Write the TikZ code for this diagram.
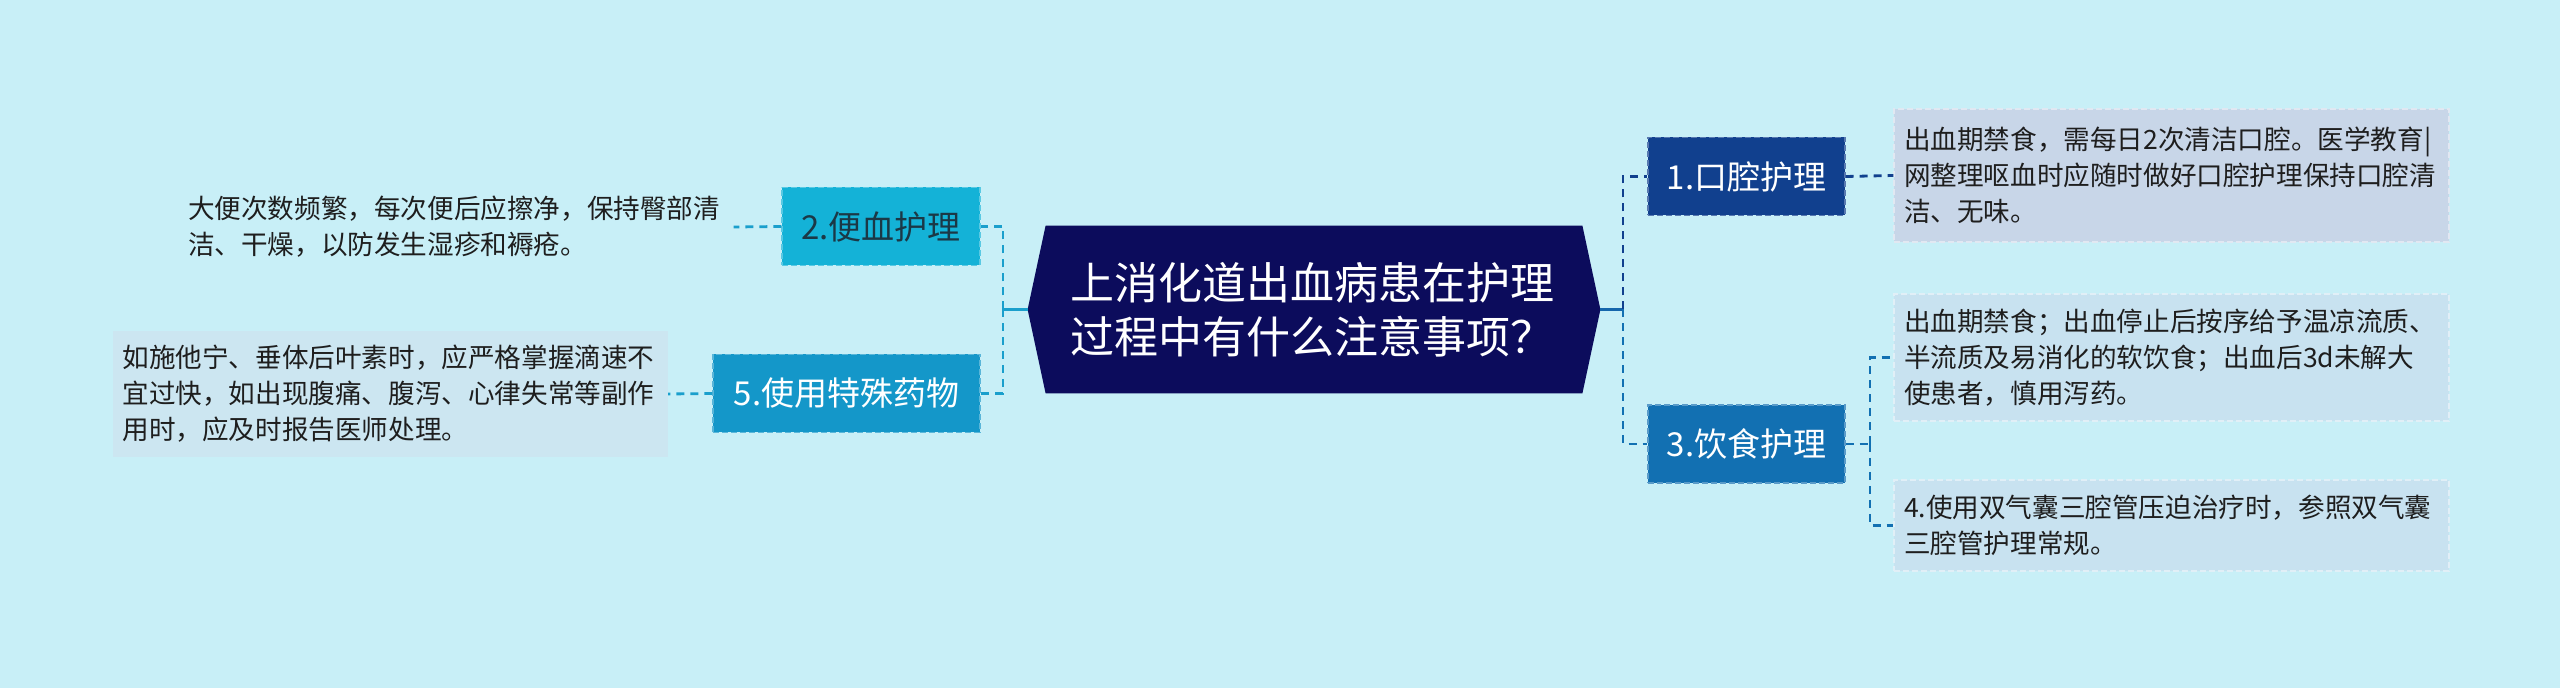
\documentclass[tikz,border=0pt]{standalone}
\usepackage{fontspec}
\setmainfont{Noto Sans CJK SC}
\usetikzlibrary{backgrounds,calc}
\definecolor{bg}{HTML}{C8EFF7}
\definecolor{navy}{HTML}{0C0C5C}
\definecolor{bOne}{HTML}{11408E}
\definecolor{bThree}{HTML}{1270B2}
\definecolor{bTwo}{HTML}{14B2D7}
\definecolor{bFive}{HTML}{1497C9}
\definecolor{lOne}{HTML}{C8D6E8}
\definecolor{lTwo}{HTML}{C8E2F0}
\definecolor{lFive}{HTML}{CCE6F1}
\definecolor{cLeft}{HTML}{1A9FCC}
\definecolor{cRight}{HTML}{1566AC}
\definecolor{txt}{HTML}{1E1E1E}
\definecolor{txtTwo}{HTML}{1B3846}
\begin{document}
\begin{tikzpicture}[x=0.5pt,y=-0.5pt,
  centerbox/.style={rectangle, inner xsep=12pt, inner ysep=0pt, minimum width=268pt, minimum height=83.5pt,
    text width=244pt, align=left, text=white, font=\fontsize{22}{27}\selectfont},
  branch/.style={rectangle, fill=#1, draw=#1!70!white, dash pattern=on 3pt off 1.5pt, line width=0.7pt,
    inner sep=0pt, minimum height=39pt, text=white, font=\fontsize{16.5}{20}\selectfont},
  leaf/.style={rectangle, fill=#1, draw=#1!55!white, dash pattern=on 3pt off 1.5pt, line width=0.6pt,
    inner xsep=5pt, inner ysep=0pt, text width=267.5pt, align=left, text=txt,
    font=\fontsize{13.3}{18}\selectfont},
  link/.style={dash pattern=on 4pt off 3pt, line width=1.4pt},
  stub/.style={line width=1.4pt}
]
\useasboundingbox (0,0) rectangle (2560,688);

% centre
\node[centerbox] (c) at (1314,309.5) {上消化道出血病患在护理\\过程中有什么注意事项？};
\coordinate (ce) at ($(c.east)+(18,0)$);
\coordinate (cw) at ($(c.west)+(-18,0)$);

% branches
\node[branch=bOne, minimum width=98.5pt] (b1) at (1746.5,176.5) {1.口腔护理};
\node[branch=bThree, minimum width=98.5pt] (b3) at (1746.5,444) {3.饮食护理};
\node[branch=bTwo, minimum width=99pt, text=txtTwo] (b2) at (881,226.5) {2.便血护理};
\node[branch=bFive, minimum width=133.5pt] (b5) at (846.5,393.5) {5.使用特殊药物};

% leaves
\node[leaf=lOne, minimum height=66.5pt] (l1) at (2171.5,175.5) {出血期禁食，需每日2次清洁口腔。医学教育|\\网整理呕血时应随时做好口腔护理保持口腔清\\洁、无味。};
\node[leaf=lTwo, minimum height=63.5pt] (l2) at (2171.5,357.5) {出血期禁食；出血停止后按序给予温凉流质、\\半流质及易消化的软饮食；出血后3d未解大\\使患者，慎用泻药。};
\node[leaf=lTwo, minimum height=45.5pt] (l3) at (2171.5,525.5) {4.使用双气囊三腔管压迫治疗时，参照双气囊\\三腔管护理常规。};
\node[leaf=bg, draw=none, minimum height=40pt] (lb) at (455.5,227) {大便次数频繁，每次便后应擦净，保持臀部清\\洁、干燥，以防发生湿疹和褥疮。};
\node[leaf=lFive, draw=none, minimum height=63pt] (lf) at (390,394) {如施他宁、垂体后叶素时，应严格掌握滴速不\\宜过快，如出现腹痛、腹泻、心律失常等副作\\用时，应及时报告医师处理。};

% junction coordinates
\coordinate (rj) at (1623,309.5);
\coordinate (lj) at (1003,309.5);
\coordinate (tj) at (1870,444);

\begin{scope}[on background layer]
  \fill[bg] (0,0) rectangle (2560,688);
  \fill[navy] (c.north west) -- (c.north east) -- (ce) -- (c.south east) -- (c.south west) -- (cw) -- cycle;
\end{scope}

% right side connectors
\draw[stub, cRight] (ce) -- (rj);
\draw[link, bOne] (rj) |- (b1.west);
\draw[link, bThree] (rj) |- (b3.west);
\draw[link, bOne] (b1.east) -- (l1.west);
\draw[link, bThree] (b3.east) -- (tj);
\draw[link, bThree] (tj) |- (l2.west);
\draw[link, bThree] (tj) |- (l3.west);

% left side connectors
\draw[stub, cLeft] (cw) -- (lj);
\draw[link, cLeft] (lj) |- (b2.east);
\draw[link, cLeft] (lj) |- (b5.east);
\draw[link, cLeft] (b2.west) -- (lb.east);
\draw[link, cLeft] (b5.west) -- (lf.east);
\end{tikzpicture}
\end{document}
